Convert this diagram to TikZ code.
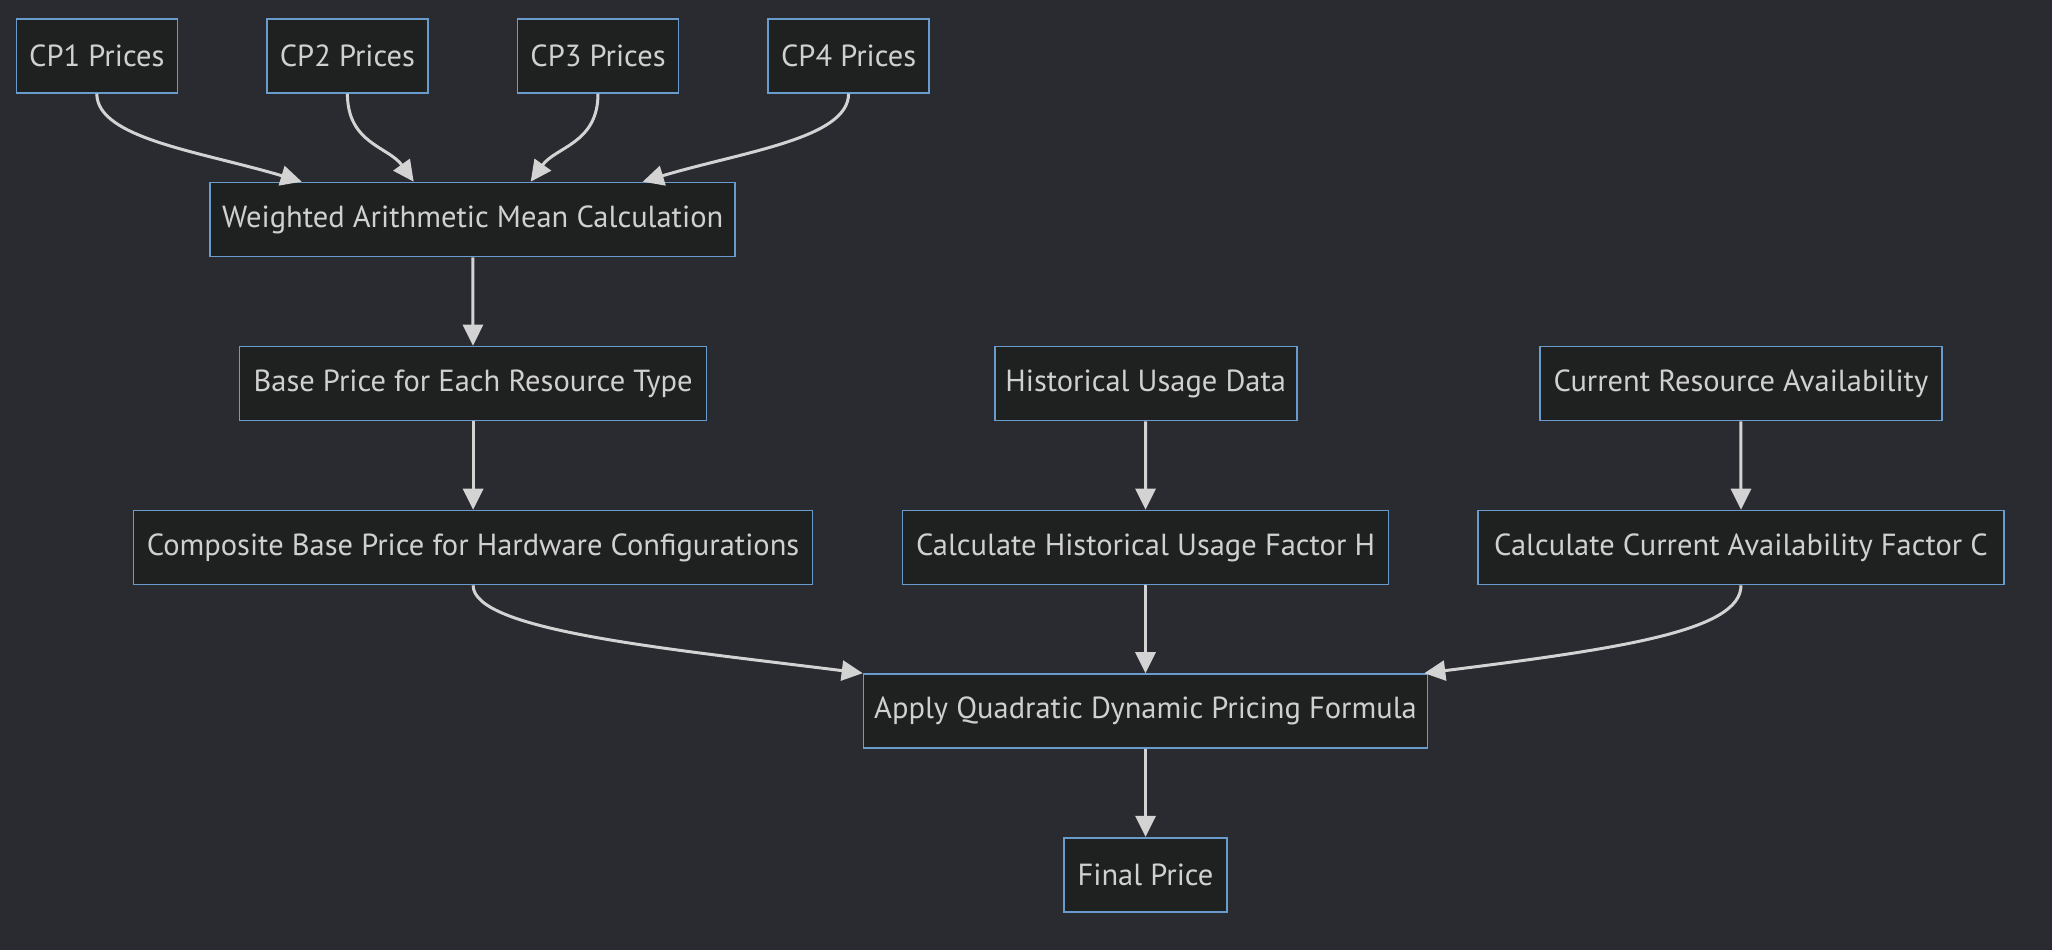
\documentclass[tikz,border=0pt]{standalone}
\usepackage{fontspec}
\setmainfont{PT Sans}
\usetikzlibrary{arrows.meta}
\definecolor{bgc}{RGB}{42,43,48}
\definecolor{nodefill}{RGB}{31,32,32}
\definecolor{nodeline}{RGB}{105,155,205}
\definecolor{txt}{RGB}{208,208,208}
\definecolor{edgec}{RGB}{211,211,211}
\tikzset{
  box/.style={draw=nodeline, fill=nodefill, line width=1.6pt, inner sep=0pt,
    minimum height=74pt, text=txt, font=\fontsize{30.5}{34}\selectfont},
  edge/.style={draw=edgec, line width=3pt, -{Triangle[length=21pt,width=20pt]}},
}
\begin{document}
\begin{tikzpicture}[x=1pt,y=-1pt]
\fill[bgc] (0,0) rectangle (2052,950);
\useasboundingbox (0,0) rectangle (2052,950);
% row 1
\node[box, minimum width=161pt] (cp1) at (96.8,55.8) {CP1 Prices};
\node[box, minimum width=161pt] (cp2) at (347.4,55.8) {CP2 Prices};
\node[box, minimum width=161pt] (cp3) at (598,55.8) {CP3 Prices};
\node[box, minimum width=161pt] (cp4) at (848.6,55.8) {CP4 Prices};
% row 2
\node[box, minimum width=525pt] (wam) at (472.7,219.5) {Weighted Arithmetic Mean Calculation};
% row 3
\node[box, minimum width=467pt] (base) at (473.1,383.5) {Base Price for Each Resource Type};
\node[box, minimum width=302pt] (hist) at (1145.7,383.5) {Historical Usage Data};
\node[box, minimum width=402pt] (curr) at (1740.9,383.5) {Current Resource Availability};
% row 4
\node[box, minimum width=679pt] (comp) at (473.1,547.5) {Composite Base Price for Hardware Configurations};
\node[box, minimum width=486pt] (calch) at (1145.5,547.5) {Calculate Historical Usage Factor H};
\node[box, minimum width=526pt] (calcc) at (1741,547.5) {Calculate Current Availability Factor C};
% row 5
\node[box, minimum width=564pt] (apply) at (1145.5,711) {Apply Quadratic Dynamic Pricing Formula};
% row 6
\node[box, minimum width=163pt] (final) at (1145.5,874.7) {Final Price};
% edges
\draw[edge] (cp1.south) .. controls +(0,45) and +(-100,-30) .. ([xshift=-171pt]wam.north);
\draw[edge] (cp2.south) .. controls +(0,50) and +(-25,-35) .. ([xshift=-59pt]wam.north);
\draw[edge] (cp3.south) .. controls +(0,50) and +(25,-35) .. ([xshift=58pt]wam.north);
\draw[edge] (cp4.south) .. controls +(0,45) and +(100,-30) .. ([xshift=170pt]wam.north);
\draw[edge] (wam) -- (base);
\draw[edge] (base) -- (comp);
\draw[edge] (hist) -- (calch);
\draw[edge] (curr) -- (calcc);
\draw[edge] (calch) -- (apply);
\draw[edge] (apply) -- (final);
\draw[edge] (comp.south) .. controls +(0,45) and +(-200,-25) .. (apply.north west);
\draw[edge] (calcc.south) .. controls +(0,45) and +(200,-25) .. ([xshift=-4pt]apply.north east);
\end{tikzpicture}
\end{document}
